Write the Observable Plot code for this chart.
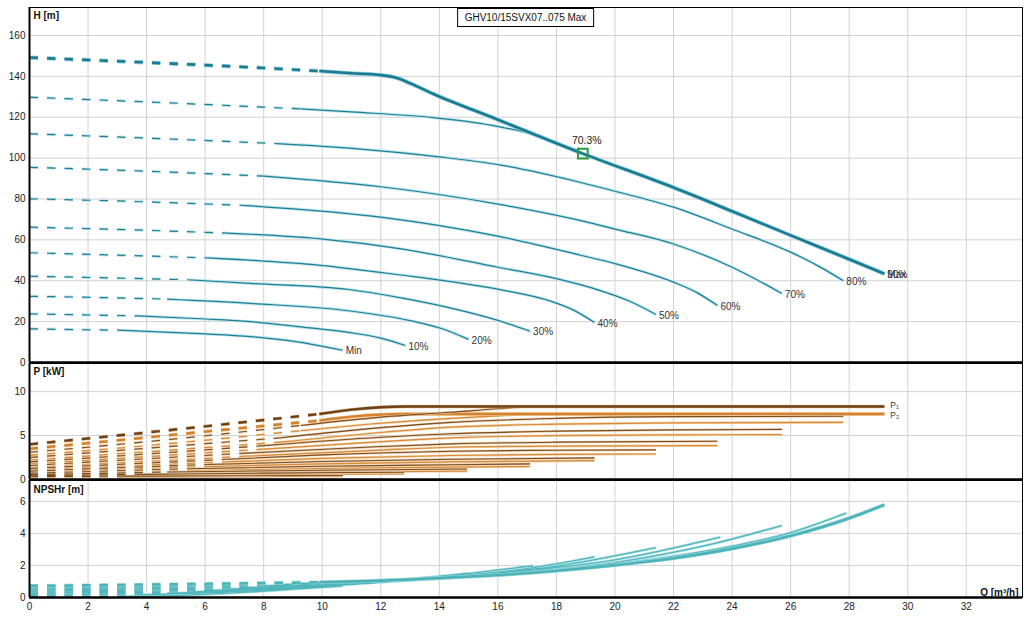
<!DOCTYPE html>
<html><head><meta charset="utf-8">
<script src="https://cdn.jsdelivr.net/npm/d3@7"></script>
<script src="https://cdn.jsdelivr.net/npm/@observablehq/plot@0.6"></script>
<style>
body{margin:0;background:#fff;font-family:"Liberation Sans",Arial,sans-serif;}
#wrap{position:relative;width:1031px;height:620px;overflow:hidden;background:#fff;}
.panel{position:absolute;left:0;}
#legend{position:absolute;top:8px;left:525.5px;transform:translateX(-50%);border:1px solid #000;background:#fff;font-size:10px;line-height:17px;height:17px;padding:0 7px;color:#111;white-space:nowrap;}
</style></head><body><div id="wrap"></div>
<script>
// ---------- categories & ticks ----------
const speeds   = ["Max","90%","80%","70%","60%","50%","40%","30%","20%","10%","Min"];
const dashEndQ = [9.9, 9.26, 8.6, 8.0, 7.4, 6.75, 6.07, 5.4, 4.7, 3.7, 3.05];
const qTicks = [0,2,4,6,8,10,12,14,16,18,20,22,24,26,28,30,32];
const hTicks = [0,20,40,60,80,100,120,140,160];
const pTicks = [0,5,10];
const nTicks = [0,2,4,6];
const legendText = "GHV10/15SVX07..075 Max";
const dutyQ = [18.9], dutyH = [102.2], dutyLabel = ["70.3%"];

// ---------- head H [m] vs Q [m3/h] ----------
const H_MAX = [[0,149.2],[4,146.8],[8,144.1],[9.9,142.6],[11,141.5],[12,140.6],[12.5,139.4],[13,136.6],[13.8,131.4],[16,118.8],[18.9,102.2],[22,85.6],[24,74.0],[26,62.2],[28,50.5],[29.2,43.4]];
const H_90  = [[0,129.8],[4,127.5],[9.26,124.1],[11,122.6],[13.8,119.8],[16,115.5],[17.3,111.2],[18.9,102.2],[22,85.6],[24,74.0],[26,62.2],[28,50.5],[29.2,43.4]];
const H_80  = [[0,111.9],[4,109.8],[8.6,107],[11,104.8],[14,100.6],[16.1,96.6],[18.8,88.2],[20,83.8],[22,76],[24,65.3],[26,54],[27,46.8],[27.8,40]];
const H_70  = [[0,95.5],[4,93.6],[8,91.2],[12,86],[16,77.5],[18.8,69.5],[20,65.3],[22,58],[24,46.6],[25.7,33.8]];
const H_60  = [[0,80.1],[4,78.6],[7.4,76.8],[12,71.1],[16,61.8],[18.8,52.6],[20,48.4],[22,39.3],[22.8,34.2],[23.5,27.9]];
const H_50  = [[0,66.2],[3.5,64.9],[6.75,63.3],[9.94,60.5],[12.7,55.6],[16,46.6],[18,41.0],[19.5,35.2],[20.5,30.0],[21.4,23.5]];
const H_40  = [[0,53.7],[3,52.5],[6.07,51.2],[9.94,47.5],[12.7,42.8],[14.4,39.6],[16.2,35.3],[17.8,30],[18.6,25.5],[19.3,19.6]];
const H_30  = [[0,42.2],[2.7,41.4],[5.4,40.5],[7.55,38.7],[10.96,35.6],[12.7,31.6],[14.4,26.6],[16,20.6],[17.1,15.3]];
const H_20  = [[0,32.4],[2.35,31.8],[4.7,31],[7.55,28.9],[10.96,25.2],[13,20.5],[14.1,16.5],[15,11.3]];
const H_10  = [[0,23.8],[1.85,23.3],[3.7,22.8],[5.84,21.4],[7.55,20.0],[9.26,17.4],[10.96,14.6],[12,11.9],[12.84,8.3]];
const H_MIN = [[0,16.5],[1.5,16.1],[3.05,15.8],[5.84,14.1],[7.55,12.7],[9.2,10.0],[10.7,6.0]];

// ---------- power P1 / P2 [kW] ----------
const P1_MAX = [[0,4.0],[3,5.0],[6,6.05],[9.9,7.45],[11,7.95],[12,8.22],[12.8,8.3],[16,8.3],[22,8.3],[29.2,8.3]];
const P2_MAX = [[0,3.5],[3,4.45],[6,5.45],[9.9,6.7],[11,7.15],[12,7.38],[12.8,7.45],[16,7.45],[22,7.45],[29.2,7.45]];
const P1_90  = [[0,3.1],[4,4.3],[9.26,6.15],[12,7.1],[14.4,7.65],[16,8.05],[17.3,8.3],[22,8.3],[29.2,8.3]];
const P2_90  = [[0,2.75],[4,3.85],[9.26,5.55],[12,6.4],[14.4,6.95],[16,7.25],[17.3,7.42],[18.5,7.45],[29.2,7.45]];
const P1_80  = [[0,2.5],[4,3.55],[8.6,4.75],[12,5.9],[14.4,6.5],[18,6.95],[22,7.15],[27.8,7.2]];
const P2_80  = [[0,2.2],[4,3.15],[8.6,4.25],[12,5.35],[14.4,5.95],[18,6.3],[22,6.45],[27.8,6.5]];
const P1_70  = [[0,2.0],[4,2.9],[8,3.85],[12,4.8],[14.4,5.2],[18,5.5],[22,5.65],[25.7,5.7]];
const P2_70  = [[0,1.75],[4,2.6],[8,3.45],[12,4.3],[14.4,4.73],[18,5.0],[22,5.08],[25.7,5.1]];
const P1_60  = [[0,1.6],[3.7,2.3],[7.4,3.0],[12,3.75],[14.4,4.05],[18,4.25],[23.5,4.35]];
const P2_60  = [[0,1.38],[3.7,2.0],[7.4,2.65],[12,3.35],[14.4,3.67],[18,3.8],[23.5,3.86]];
const P1_50  = [[0,1.25],[3.4,1.78],[6.75,2.3],[10,2.8],[14.4,3.22],[18,3.33],[21.4,3.37]];
const P2_50  = [[0,1.08],[3.4,1.55],[6.75,2.0],[10,2.4],[14.4,2.73],[18,2.86],[21.4,2.9]];
const P1_40  = [[0,0.95],[3,1.33],[6.07,1.7],[10,2.05],[14.4,2.3],[19.3,2.46]];
const P2_40  = [[0,0.82],[3,1.15],[6.07,1.47],[10,1.78],[14.4,2.0],[19.3,2.15]];
const P1_30  = [[0,0.72],[5.4,1.22],[10,1.5],[14.4,1.68],[17.1,1.78]];
const P2_30  = [[0,0.6],[5.4,1.0],[10,1.25],[14.4,1.4],[17.1,1.48]];
const P1_20  = [[0,0.55],[4.7,0.85],[10,1.05],[14.95,1.2]];
const P2_20  = [[0,0.45],[4.7,0.68],[10,0.85],[14.95,0.95]];
const P1_10  = [[0,0.42],[3.7,0.58],[8,0.72],[12.8,0.83]];
const P2_10  = [[0,0.34],[3.7,0.46],[8,0.57],[12.8,0.65]];
const P1_MIN = [[0,0.32],[3.05,0.38],[7,0.42],[10.7,0.45]];
const P2_MIN = [[0,0.25],[3.05,0.3],[7,0.33],[10.7,0.35]];

// ---------- NPSHr [m] ----------
const N_MAX = [[0,0.72],[4,0.8],[9.9,0.95],[12,1.05],[14,1.22],[16,1.4],[18,1.67],[20,2.02],[22,2.45],[24,3.05],[26,3.85],[28,4.95],[29.2,5.78]];
const N_90  = [[0,0.66],[4,0.74],[9.26,0.88],[12,1.02],[14,1.22],[16,1.42],[17.3,1.58],[18,1.67],[20,2.02],[22,2.45],[24,3.05],[26,3.85],[28,4.95],[29.2,5.78]];
const N_80  = [[0,0.6],[8.6,0.8],[12,1.0],[16,1.42],[20,2.08],[24,3.2],[26,4.05],[27.9,5.27]];
const N_70  = [[0,0.53],[8,0.72],[12,0.98],[16,1.45],[20,2.18],[23,3.2],[25.7,4.49]];
const N_60  = [[0,0.46],[7.4,0.62],[12,0.96],[16,1.5],[20,2.35],[23.6,3.77]];
const N_50  = [[0,0.4],[6.75,0.52],[10,0.76],[14,1.22],[18,1.95],[21.4,3.11]];
const N_40  = [[0,0.33],[6.07,0.43],[10,0.72],[14,1.25],[17,1.8],[19.3,2.53]];
const N_30  = [[0,0.27],[5.4,0.34],[10,0.7],[14,1.3],[17.2,1.98]];
const N_20  = [[0,0.2],[4.7,0.25],[8,0.48],[12,0.98],[14.95,1.5]];
const N_10  = [[0,0.13],[3.7,0.16],[8,0.45],[11,0.85],[12.8,1.12]];
const N_MIN = [[0,0.06],[3.05,0.07],[4.5,0.1],[6.8,0.27],[10.7,0.72]];

const H_CURVES  = [H_MAX,H_90,H_80,H_70,H_60,H_50,H_40,H_30,H_20,H_10,H_MIN];
const P1_CURVES = [P1_MAX,P1_90,P1_80,P1_70,P1_60,P1_50,P1_40,P1_30,P1_20,P1_10,P1_MIN];
const P2_CURVES = [P2_MAX,P2_90,P2_80,P2_70,P2_60,P2_50,P2_40,P2_30,P2_20,P2_10,P2_MIN];
const N_CURVES  = [N_MAX,N_90,N_80,N_70,N_60,N_50,N_40,N_30,N_20,N_10,N_MIN];

// ---------- helpers ----------
function toRows(curves){
  const out = [];
  curves.forEach((pts,i)=>{
    const q0 = dashEndQ[i];
    pts.forEach(([q,v])=>{
      if (q <= q0) out.push({s:speeds[i], i, seg:"d", q, v});
      if (q >= q0) out.push({s:speeds[i], i, seg:"s", q, v});
    });
  });
  return out;
}
const DASH = "8.5,9";
function lineMarks(rows, o){
  const thin = rows.filter(d=>d.i!==0), thick = rows.filter(d=>d.i===0);
  const m = [];
  const base = {x:"q", y:"v", z:"s", curve:"monotone-x", strokeLinecap:"butt"};
  for (const [data,w,hw,col,halo] of [[thin,o.w,o.hw,o.c,o.h],[thick,o.W,o.HW,o.C,o.H]]) {
    const d = data.filter(r=>r.seg==="d"), s = data.filter(r=>r.seg==="s");
    m.push(Plot.line(d,{...base, stroke:halo, strokeWidth:hw, strokeDasharray:DASH}));
    m.push(Plot.line(s,{...base, stroke:halo, strokeWidth:hw}));
    m.push(Plot.line(d,{...base, stroke:col, strokeWidth:w, strokeDasharray:DASH}));
    m.push(Plot.line(s,{...base, stroke:col, strokeWidth:w}));
  }
  return m;
}
const W = 1031, ML = 29, MR = 9;
const xDom = [0, 33.92];
const FONT = '"Liberation Sans", Arial, sans-serif';
const style = {fontFamily:FONT, fontSize:"10px", color:"#222", background:"transparent", overflow:"visible"};
function frameMarks(yTicks){
  return [
    Plot.ruleX(qTicks,{stroke:"#d2d2d2", strokeWidth:1}),
    Plot.ruleY(yTicks.filter(t=>t>0),{stroke:"#d2d2d2", strokeWidth:1}),
  ];
}
function borderMarks(){
  return [
    Plot.frame({stroke:"#000", strokeWidth:1}),
    Plot.ruleX([0],{stroke:"#000", strokeWidth:2}),
    Plot.ruleY([0],{stroke:"#000", strokeWidth:2.6})
  ];
}
function axisTitle(t, dy){
  return Plot.text([t],{frameAnchor:"top-left", dx:4, dy:dy, textAnchor:"start", lineAnchor:"top", fontWeight:"bold", fontSize:10, fill:"#111"});
}

const wrap = document.getElementById("wrap");
function place(el, top){ const d = document.createElement("div"); d.className="panel"; d.style.top = top+"px"; d.appendChild(el); wrap.appendChild(d); }

// ---------- panel 1: H ----------
const hRows = toRows(H_CURVES);
const hEnds = H_CURVES.map((pts,i)=>({q:pts[pts.length-1][0], v:pts[pts.length-1][1], s:speeds[i]}));
const hPlot = Plot.plot({
  width:W, height:364, marginLeft:ML, marginRight:MR, marginTop:7, marginBottom:2,
  x:{domain:xDom, axis:null}, y:{domain:[0,173.7], axis:null}, style,
  marks:[
    ...frameMarks(hTicks),
    Plot.axisY(hTicks,{label:null, tickSize:0, tickPadding:4, fontSize:10, fill:"#222"}),
    ...lineMarks(hRows,{w:1.2,hw:3,c:"#1f7f94",h:"#bfe5ee", W:2.6,HW:4.2,C:"#1b7b90",H:"#9ad3e1"}),
    Plot.text(hEnds,{x:"q", y:"v", text:"s", textAnchor:"start", dx:3, dy:1, fontSize:10, fill:"#333"}),
    Plot.dot(dutyQ.map((q,i)=>({q, v:dutyH[i]})),{x:"q", y:"v", symbol:"square", r:5.5, stroke:"#2a9a3a", strokeWidth:2, fill:"none"}),
    Plot.text(dutyQ.map((q,i)=>({q, v:dutyH[i], t:dutyLabel[i]})),{x:"q", y:"v", text:"t", dy:-13, dx:4, fontSize:10.5, fill:"#222"}),
    axisTitle("H [m]", 4),
    ...borderMarks()
  ]
});
place(hPlot, 0);

// ---------- panel 2: P ----------
const p1Rows = toRows(P1_CURVES), p2Rows = toRows(P2_CURVES);
const pEnd = [{q:P1_MAX[P1_MAX.length-1][0], v:P1_MAX[P1_MAX.length-1][1], t:"P\u2081"},{q:P2_MAX[P2_MAX.length-1][0], v:P2_MAX[P2_MAX.length-1][1], t:"P\u2082"}];
const pPlot = Plot.plot({
  width:W, height:118, marginLeft:ML, marginRight:MR, marginTop:1, marginBottom:1,
  x:{domain:xDom, axis:null}, y:{domain:[0,13.2], axis:null}, style,
  marks:[
    ...frameMarks(pTicks),
    Plot.axisY(pTicks,{label:null, tickSize:0, tickPadding:4, fontSize:10, fill:"#222"}),
    ...lineMarks(p2Rows,{w:1.2,hw:2.6,c:"#d98a38",h:"#f5d6b0", W:2.4,HW:3.6,C:"#d4822e",H:"#f0c58f"}),
    ...lineMarks(p1Rows,{w:1.1,hw:2.4,c:"#7c4d20",h:"#e8cba8", W:2.4,HW:3.4,C:"#6e4219",H:"#d9b48a"}),
    Plot.text(pEnd.slice(0,1),{x:"q", y:"v", text:"t", textAnchor:"start", dx:6, dy:-1.5, fontSize:8.5, fill:"#333"}),
    Plot.text(pEnd.slice(1),{x:"q", y:"v", text:"t", textAnchor:"start", dx:6, dy:1.5, fontSize:8.5, fill:"#333"}),
    axisTitle("P [kW]", 4),
    ...borderMarks()
  ]
});
place(pPlot, 362);

// ---------- panel 3: NPSHr ----------
const nRows = toRows(N_CURVES);
const nPlot = Plot.plot({
  width:W, height:141, marginLeft:ML, marginRight:MR, marginTop:1, marginBottom:23,
  x:{domain:xDom, axis:null}, y:{domain:[0,7.3], axis:null}, style,
  marks:[
    ...frameMarks(nTicks),
    Plot.axisY(nTicks,{label:null, tickSize:0, tickPadding:4, fontSize:10, fill:"#222"}),
    Plot.axisX(qTicks,{label:null, anchor:"bottom", tickSize:0, tickPadding:5, fontSize:10, fill:"#222"}),
    ...lineMarks(nRows,{w:1.3,hw:2.8,c:"#4fb6bc",h:"#b9e4e7", W:2.6,HW:3.8,C:"#4cb3b9",H:"#9fd9dd"}),
    axisTitle("NPSHr [m]", 5),
    Plot.text(["Q [m\u00b3/h]"],{frameAnchor:"bottom-right", dx:-4, dy:-2, textAnchor:"end", lineAnchor:"bottom", fontWeight:"bold", fontSize:10, fill:"#111"}),
    ...borderMarks()
  ]
});
place(nPlot, 479);

// legend box
const lg = document.createElement("div"); lg.id="legend"; lg.textContent = legendText; wrap.appendChild(lg);
</script></body></html>
